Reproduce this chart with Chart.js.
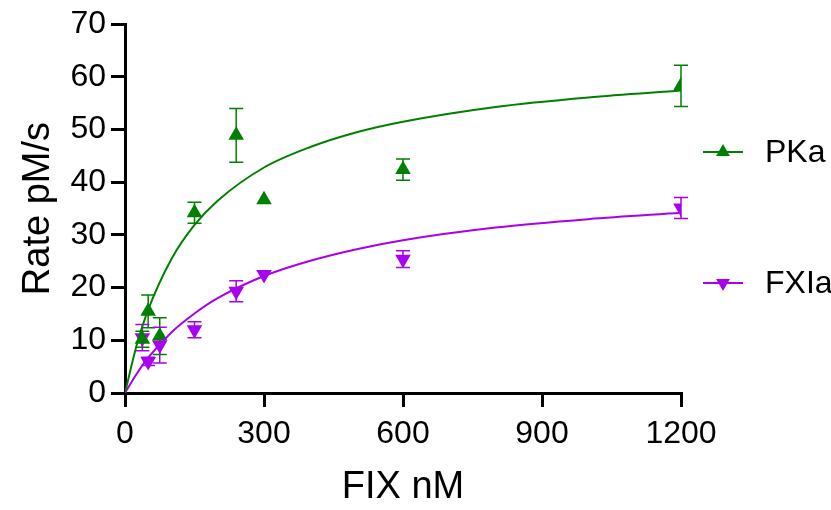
<!DOCTYPE html>
<html>
<head>
<meta charset="utf-8">
<script src="https://cdn.jsdelivr.net/npm/chart.js@4"></script>
<style>
  html, body { margin: 0; padding: 0; background: #fff; }
  #wrap { width: 831px; height: 510px; }
</style>
</head>
<body>
<div id="wrap"><canvas id="chart"></canvas></div>
<script>
// measured points (FIX nM vs rate pM/s)
const fixConc = [37.5, 50, 75, 150, 240, 300, 600, 1200];
const pkaRate = [10.2, 15.5, 10.8, 34.2, 48.9, 36.7, 42.4, 58.3];
const pkaErr = [1.5, 3.1, 3.5, 2.0, 5.1, 0, 2.0, 3.9];
const fxiaRate = [10.5, 6.0, 9.1, 12.0, 19.3, 22.5, 25.4, 35.1];
const fxiaErr = [2.5, 0.8, 3.4, 1.5, 2.0, 0, 1.6, 2.0];

// fitted curves
const curveX = [0, 25, 50, 100, 150, 200, 300, 400, 500, 600, 800, 1000, 1200];
const pkaFit = [0, 9.0, 15.8, 25.4, 31.9, 36.5, 42.8, 46.7, 49.5, 51.5, 54.3, 56.1, 57.4];
const fxiaFit = [0, 3.6, 6.7, 11.5, 15.1, 18.0, 22.2, 25.1, 27.3, 29.0, 31.4, 33.0, 34.2];

const xTicks = [0, 300, 600, 900, 1200];

const green = '#008000';
const purple = '#a900ef';
const font = 'Liberation Sans, Arial, sans-serif';

function toPoints(xs, ys) {
  return xs.map((x, i) => ({ x: x, y: ys[i] }));
}

// error bars drawn with the chart's own scales
const errorBars = {
  id: 'errorBars',
  beforeDatasetsDraw(chart) {
    const ctx = chart.ctx;
    const xs = chart.scales.x, ys = chart.scales.y;
    const sets = [[pkaRate, pkaErr, green], [fxiaRate, fxiaErr, purple]];
    ctx.save();
    ctx.lineWidth = 1.5;
    sets.forEach(([vals, errs, col]) => {
      ctx.strokeStyle = col;
      vals.forEach((v, i) => {
        if (!errs[i]) return;
        const px = xs.getPixelForValue(fixConc[i]);
        const top = ys.getPixelForValue(v + errs[i]);
        const bot = ys.getPixelForValue(v - errs[i]);
        ctx.beginPath();
        ctx.moveTo(px, top); ctx.lineTo(px, bot);
        ctx.moveTo(px - 7, top); ctx.lineTo(px + 7, top);
        ctx.moveTo(px - 7, bot); ctx.lineTo(px + 7, bot);
        ctx.stroke();
      });
    });
    ctx.restore();
  }
};

// legend on the right, spaced like the original
const sideLegend = {
  id: 'sideLegend',
  afterDraw(chart) {
    const ctx = chart.ctx;
    const items = [
      { label: 'PKa', col: green, rot: 0, y: 152 },
      { label: 'FXIa', col: purple, rot: 180, y: 283 }
    ];
    ctx.save();
    items.forEach(it => {
      ctx.strokeStyle = it.col;
      ctx.lineWidth = 2;
      ctx.beginPath();
      ctx.moveTo(703, it.y); ctx.lineTo(743, it.y);
      ctx.stroke();
      ctx.fillStyle = it.col;
      Chart.helpers.drawPoint(ctx, { pointStyle: 'triangle', radius: 8, rotation: it.rot, borderWidth: 0 }, 723, it.y);
      ctx.fillStyle = '#000';
      ctx.font = '32px ' + font;
      ctx.textBaseline = 'middle';
      ctx.fillText(it.label, 765, it.y + 1);
    });
    ctx.restore();
  }
};

new Chart('chart', {
  type: 'scatter',
  data: {
    datasets: [{
      label: 'PKa fit',
      type: 'line',
      data: toPoints(curveX, pkaFit),
      borderColor: green,
      borderWidth: 2,
      pointRadius: 0,
      cubicInterpolationMode: 'monotone',
      fill: false
    }, {
      label: 'FXIa fit',
      type: 'line',
      data: toPoints(curveX, fxiaFit),
      borderColor: purple,
      borderWidth: 2,
      pointRadius: 0,
      cubicInterpolationMode: 'monotone',
      fill: false
    }, {
      label: 'PKa',
      data: toPoints(fixConc, pkaRate),
      pointStyle: 'triangle',
      pointRadius: 9,
      backgroundColor: green,
      borderColor: green,
      borderWidth: 0
    }, {
      label: 'FXIa',
      data: toPoints(fixConc, fxiaRate),
      pointStyle: 'triangle',
      rotation: 180,
      pointRadius: 9,
      backgroundColor: purple,
      borderColor: purple,
      borderWidth: 0
    }]
  },
  options: {
    responsive: true,
    maintainAspectRatio: false,
    animation: false,
    layout: { padding: { left: 0, right: 150, top: 24, bottom: 0 } },
    plugins: {
      legend: { display: false },
      tooltip: { enabled: false }
    },
    scales: {
      x: {
        type: 'linear',
        min: 0,
        max: 1200,
        afterFit: s => { s.height = 117; },
        afterBuildTicks: s => { s.ticks = xTicks.map(v => ({ value: v })); },
        grid: { drawOnChartArea: false, tickLength: 14, color: '#000', lineWidth: 3 },
        border: { display: true, color: '#000', width: 3 },
        ticks: { color: '#000', padding: 8, font: { family: font, size: 32 }, maxRotation: 0, callback: v => String(v) },
        title: { display: true, text: 'FIX nM', color: '#000', font: { family: font, size: 38 }, padding: { top: 0, bottom: 0 } }
      },
      y: {
        min: 0,
        max: 70,
        afterFit: s => { s.width = 125; },
        grid: { drawOnChartArea: false, tickLength: 14, color: '#000', lineWidth: 3 },
        border: { display: true, color: '#000', width: 3 },
        ticks: { stepSize: 10, color: '#000', padding: 5, font: { family: font, size: 32 } },
        title: { display: true, text: 'Rate pM/s', color: '#000', font: { family: font, size: 38 }, padding: { top: 16, bottom: 0 } }
      }
    }
  },
  plugins: [errorBars, sideLegend]
});
</script>
</body>
</html>
